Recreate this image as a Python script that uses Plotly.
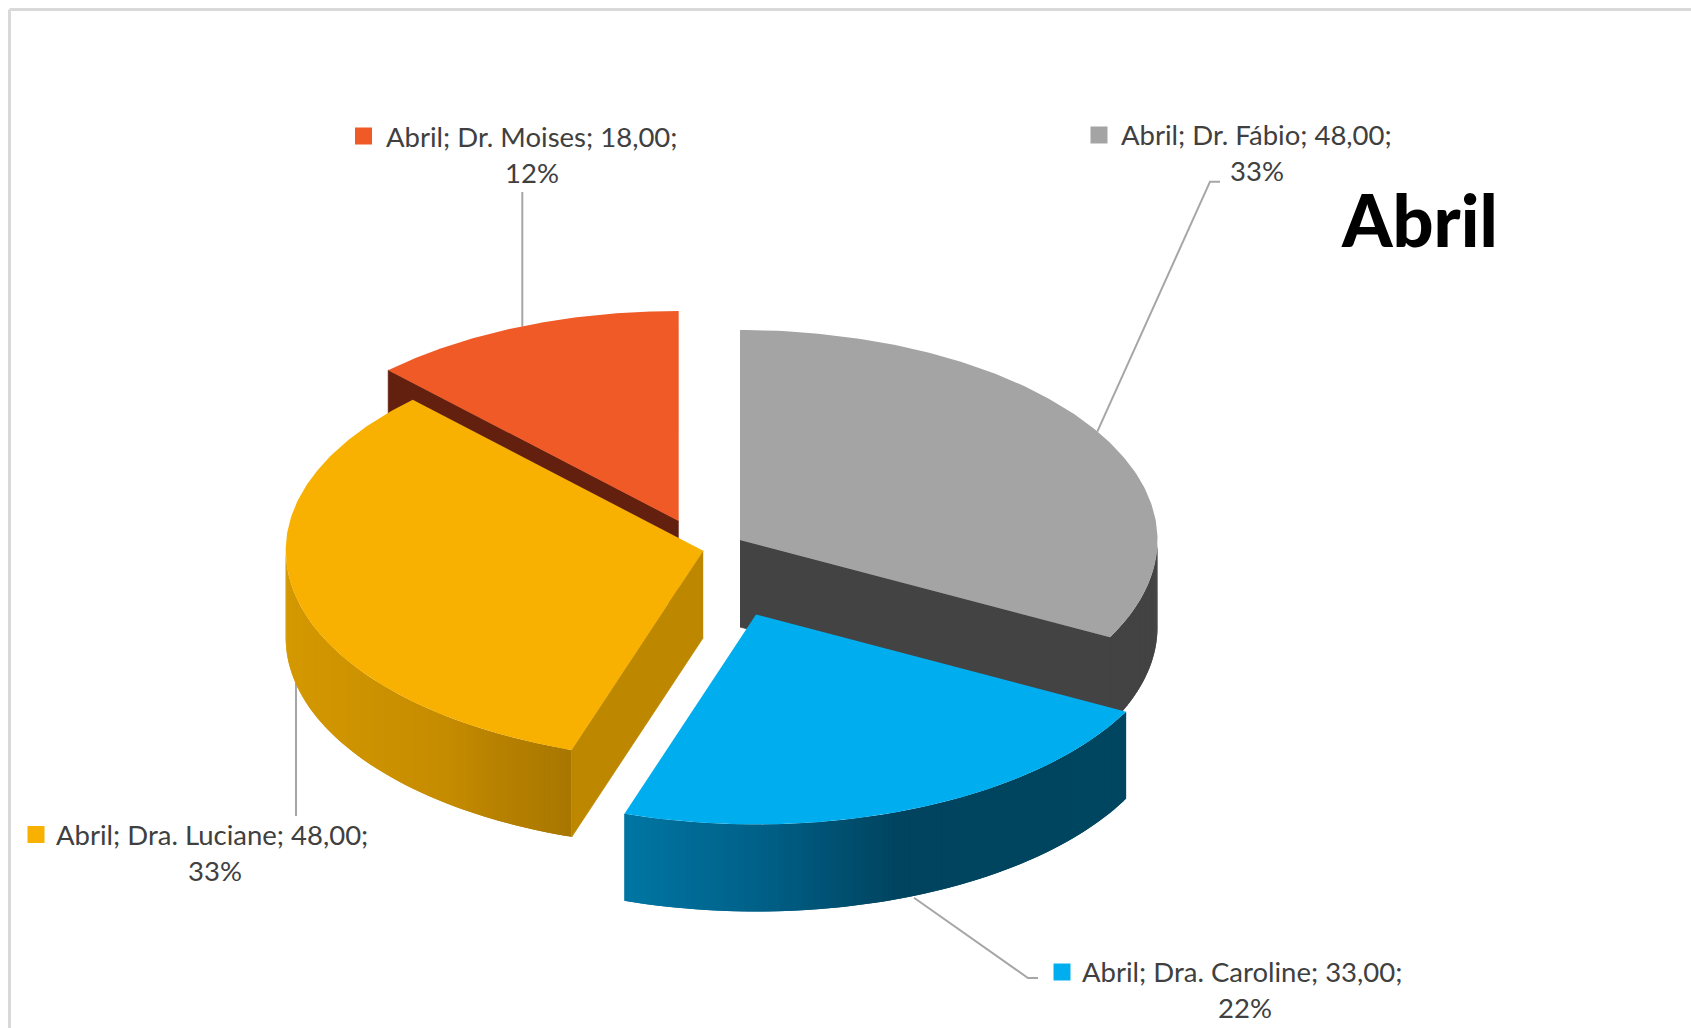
import numpy as np
import plotly.graph_objects as go

# ---- data ----
series_name = "Abril"
categories = ["Dr. Fábio", "Dra. Caroline", "Dra. Luciane", "Dr. Moises"]
values = [48, 33, 48, 18]
percent_labels = ["33%", "22%", "33%", "12%"]

# ---- styles / geometry of the 3D pie ----
RX, RY, DEPTH = 417.5, 210.0, 87.0
apex = {"Dr. Fábio": (740, 540), "Dra. Caroline": (756, 614.5),
        "Dra. Luciane": (703.2, 550.7), "Dr. Moises": (678.7, 521)}
top_col = {"Dr. Fábio": "#a4a4a4", "Dra. Caroline": "#00aeef",
           "Dra. Luciane": "#f8b100", "Dr. Moises": "#f05a27"}
face_col = {"Dr. Fábio": "#434343", "Dra. Caroline": "#00465f",
            "Dra. Luciane": "#bd8700", "Dr. Moises": "#63200e"}
# side gradient: (pixel x, (r, g, b))
side_stops = {
    "Dr. Fábio": [(0, (67, 67, 67)), (1691, (67, 67, 67))],
    "Dra. Caroline": [(624, (0, 118, 163)), (765, (0, 95, 135)), (898, (0, 68, 95)), (1126, (0, 70, 96))],
    "Dra. Luciane": [(286, (212, 152, 0)), (446, (198, 140, 0)), (491, (185, 130, 0)), (572, (168, 119, 0))],
    "Dr. Moises": [(0, (99, 32, 14)), (1691, (99, 32, 14))],
}
label_pos = {  # marker x, marker y, line 1 text left x, line 1 y, line 2 centre x, line 2 y
    "Dr. Fábio": (1099, 135, 1119, 134.5, 1256.7, 170.5),
    "Dra. Caroline": (1062, 972, 1079.5, 971, 1245, 1007),
    "Dra. Luciane": (36, 834.5, 54, 834.5, 214.7, 870.5),
    "Dr. Moises": (363.5, 136, 383.5, 136.5, 532, 172.5),
}
leaders = {
    "Dr. Fábio": ([1097.3, 1210, 1220], [431.7, 181.7, 181.7]),
    "Dra. Caroline": ([914, 1028, 1038], [897.7, 978, 978]),
    "Dra. Luciane": ([296, 296], [683, 816]),
    "Dr. Moises": ([522.3, 522.3], [192, 326.7]),
}
draw_order = ["Dr. Moises", "Dr. Fábio", "Dra. Luciane", "Dra. Caroline"]

fig = go.Figure()


def poly(xs, ys, color, lw=0.0):
    fig.add_trace(go.Scatter(x=list(xs), y=list(ys), mode="lines", fill="toself",
                             fillcolor=color, line=dict(width=lw, color=color),
                             hoverinfo="skip", showlegend=False))


def pt(name, deg, dz=0.0):
    a = np.radians(deg)
    cx, cy = apex[name]
    return cx + RX * np.sin(a), cy - RY * np.cos(a) + dz


# angles from the values
total = sum(values)
cum = np.cumsum([0] + values) / total * 360.0
span = {c: (cum[i], cum[i + 1]) for i, c in enumerate(categories)}

# leader lines go behind the pie
for c in categories:
    fig.add_trace(go.Scatter(x=leaders[c][0], y=leaders[c][1], mode="lines",
                             line=dict(color="#a6a6a6", width=2),
                             hoverinfo="skip", showlegend=False))

for c in draw_order:
    t0, t1 = span[c]
    cx, cy = apex[c]
    # outer wall, as strips with a shade that follows x
    a0, a1 = max(t0, 90.0), min(t1, 270.0)
    if a1 > a0:
        stops = side_stops[c]
        xp = [s[0] for s in stops]
        n = max(3, int((a1 - a0) / 0.8))
        edges = np.linspace(a0, a1, n + 1)
        for i in range(n):
            # each strip overlaps the next one, so no seams show
            arc = np.linspace(edges[i], edges[min(i + 2, n)], 6)
            px, py = pt(c, arc)
            mx, _ = pt(c, (edges[i] + edges[i + 1]) / 2)
            rgb = [int(round(np.interp(mx, xp, [s[1][k] for s in stops]))) for k in range(3)]
            poly(np.r_[px, px[::-1]], np.r_[py, py[::-1] + DEPTH], "rgb(%d,%d,%d)" % tuple(rgb))
    # radial faces
    if np.sin(np.radians(t0)) < -1e-6:
        x, y = pt(c, t0)
        poly([cx, x, x, cx], [cy, y, y + DEPTH, cy + DEPTH], face_col[c], lw=0.8)
    if np.sin(np.radians(t1)) > 1e-6:
        x, y = pt(c, t1)
        poly([cx, x, x, cx], [cy, y, y + DEPTH, cy + DEPTH], face_col[c], lw=0.8)
    # top
    arc = np.linspace(t0, t1, 160)
    px, py = pt(c, arc)
    poly(np.r_[cx, px, cx], np.r_[cy, py, cy], top_col[c])

# label keys
for c in categories:
    mx, my, tx, ty, cx2, ty2 = label_pos[c]
    fig.add_trace(go.Scatter(x=[mx], y=[my], mode="markers",
                             marker=dict(symbol="square", size=17, color=top_col[c], line=dict(width=0)),
                             hoverinfo="skip", showlegend=False))

annotations = []
for c, v, p in zip(categories, values, percent_labels):
    mx, my, tx, ty, cx2, ty2 = label_pos[c]
    line1 = f"{series_name}; {c}; {v},00;"
    annotations.append(dict(x=tx, y=ty, text=line1, xanchor="left", yanchor="middle", showarrow=False,
                            font=dict(family="Lato", size=27.5, color="#404040")))
    annotations.append(dict(x=cx2, y=ty2, text=p, xanchor="center", yanchor="middle", showarrow=False,
                            font=dict(family="Lato", size=27.5, color="#404040")))
annotations.append(dict(x=1419, y=219, text=series_name, xanchor="center", yanchor="middle", showarrow=False,
                        font=dict(family="Lato", size=72, color="#000000", weight=900)))

frame = [
    dict(type="line", xref="x", yref="y", x0=9.5, x1=9.5, y0=9.5, y1=1028, line=dict(color="#d9d9d9", width=3)),
    dict(type="line", xref="x", yref="y", x0=9.5, x1=1691, y0=9.5, y1=9.5, line=dict(color="#d9d9d9", width=3)),
]

fig.update_layout(
    width=1691, height=1028, margin=dict(l=0, r=0, t=0, b=0),
    paper_bgcolor="white", plot_bgcolor="white", showlegend=False,
    xaxis=dict(range=[0, 1691], visible=False, fixedrange=True),
    yaxis=dict(range=[1028, 0], visible=False, fixedrange=True),
    annotations=annotations, shapes=frame,
)

fig.write_html("out.html", config=dict(displayModeBar=False),
               post_script="document.body.style.margin='0';document.body.style.overflow='hidden';")
